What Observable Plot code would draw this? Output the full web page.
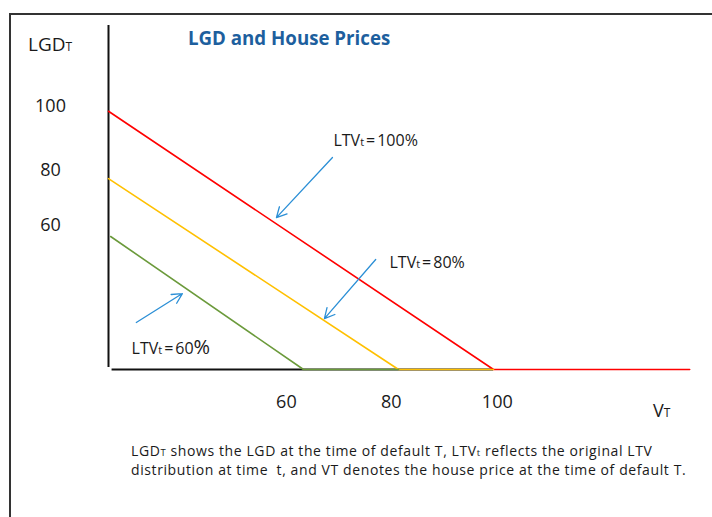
<!DOCTYPE html>
<html>
<head>
<meta charset="utf-8">
<script src="https://cdn.jsdelivr.net/npm/d3@7"></script>
<script src="https://cdn.jsdelivr.net/npm/@observablehq/plot@0.6"></script>
<style>
  html, body { margin: 0; padding: 0; background: #fff; }
  #wrap { position: relative; width: 712px; height: 517px; overflow: hidden; font-family: "Open Sans", "Noto Sans", sans-serif; color: #1a1a1a; }
  #frameBox { position: absolute; left: 9px; top: 13px; width: 760px; height: 560px; border-left: 2px solid #333; border-top: 2px solid #333; }
  #chart { position: absolute; left: 0; top: 0; }
  .abs { position: absolute; white-space: nowrap; }
  #title { left: 188px; top: 25px; font-size: 18.7px; font-weight: 700; color: #1d5f9e; line-height: 26px; }
  .axt { font-size: 19px; line-height: 24px; }
  .sm { font-size: 12px; }
  .cap { left: 131px; font-family: "Open Sans", sans-serif; font-size: 14px; line-height: 18px; letter-spacing: 0.6px; }
  .cap .sm { font-size: 9.5px; }
</style>
</head>
<body>
<div id="wrap">
  <div id="frameBox"></div>
  <div id="chart"></div>
  <div id="title" class="abs">LGD and House Prices</div>
  <div class="abs axt" style="left:28px;top:32px;">LGD<span class="sm">T</span></div>
  <div class="abs axt" style="left:653px;top:398px;font-size:18px;">V<span class="sm">T</span></div>
  <div class="abs cap" style="top:442px;">LGD<span class="sm">T</span> shows the LGD at the time of default T, LTV<span class="sm">t</span> reflects the original LTV</div>
  <div class="abs cap" style="top:461px;">distribution at time&nbsp; t, and VT denotes the house price at the time of default T.</div>
</div>
<script>
// Series (LTV at origination) and their colours
const seriesNames = ["LTVt=100%", "LTVt=80%", "LTVt=60%"];
const seriesColors = ["#ff0000", "#ffc000", "#6b9a3b"];

// House price at default (V_T) and LGD_T for each series
const vRed = [18.95, 100, 141.3];
const lgdRed = [100, 0, 0];
const vYellow = [18.95, 80, 100];
const lgdYellow = [73.9, 0, 0];
const vGreen = [19.4, 60, 80];
const lgdGreen = [51.5, 0, 0];

// Tick labels and where they sit (in data units)
const xTickLabels = ["60", "80", "100"];
const xTickAt = [56.4, 78.5, 100.8];
const yTickLabels = ["100", "80", "60"];
const yTickAt = [101.8, 77.0, 55.7];

// Axis lines
const axisV = 18.95;
const axisVExtent = [0.8, 133.2];
const axisHExtent = [19.7, 100];

// Annotation arrows (tail -> head) and labels
const arrowX1 = [66.1, 75.2, 24.8];
const arrowY1 = [82.1, 42.6, 18.2];
const arrowX2 = [54.3, 64.4, 34.5];
const arrowY2 = [58.8, 19.7, 29.4];
const labelX = [66.3, 78.1, 23.8];
const labelY = [88.6, 41.4, 8.1];

const rows = [];
[[vRed, lgdRed], [vYellow, lgdYellow], [vGreen, lgdGreen]].forEach(([vs, ls], i) => {
  vs.forEach((v, j) => rows.push({series: seriesNames[i], v, lgd: ls[j]}));
});
const arrows = arrowX1.map((d, i) => ({x1: d, y1: arrowY1[i], x2: arrowX2[i], y2: arrowY2[i]}));
const labels = seriesNames.map((s, i) => ({text: s, x: labelX[i], y: labelY[i]}));
const xTicks = xTickLabels.map((l, i) => ({label: l, at: xTickAt[i]}));
const yTicks = yTickLabels.map((l, i) => ({label: l, at: yTickAt[i]}));

const chart = Plot.plot({
  width: 712,
  height: 517,
  marginLeft: 108,
  marginRight: 22,
  marginTop: 25,
  marginBottom: 148,
  style: {fontFamily: "'Open Sans', 'Noto Sans', sans-serif", background: "transparent", color: "#1a1a1a"},
  x: {domain: [18.95, 141.47], axis: null},
  y: {domain: [0, 133.2], axis: null},
  color: {domain: seriesNames, range: seriesColors},
  marks: [
    Plot.ruleX([axisV], {y1: axisVExtent[0], y2: axisVExtent[1], stroke: "#111", strokeWidth: 2}),
    Plot.ruleY([0], {x1: axisHExtent[0], x2: axisHExtent[1], stroke: "#111", strokeWidth: 2}),
    Plot.line(rows, {x: "v", y: "lgd", z: "series", stroke: "series", strokeWidth: 1.6}),
    Plot.arrow(arrows, {x1: "x1", y1: "y1", x2: "x2", y2: "y2", stroke: "#2b8fd6", strokeWidth: 1.3, headLength: 13, headAngle: 55}),
    Plot.text(labels, {x: "x", y: "y", text: "text", textAnchor: "start", fontSize: 16, fill: "#1a1a1a"}),
    Plot.text(xTicks, {x: "at", text: "label", frameAnchor: "bottom", dy: 38, fontSize: 18, fill: "#1a1a1a"}),
    Plot.text(yTicks, {y: "at", text: "label", frameAnchor: "left", dx: -58, textAnchor: "middle", fontSize: 18, fill: "#1a1a1a"})
  ]
});

// small "t" in LTVt, larger % on the 60% label
chart.querySelectorAll("text").forEach(t => {
  const m = t.textContent.match(/^(LTV)(t)(=)(\d+)(%)$/);
  if (!m) return;
  t.textContent = "";
  const ns = "http://www.w3.org/2000/svg";
  const parts = [[m[1], null], [m[2], "11px"], [m[3], null, "2"], [m[4], null, "2"], [m[5], m[4] === "60" ? "20px" : null]];
  for (const [s, fs, dx] of parts) {
    const ts = document.createElementNS(ns, "tspan");
    ts.textContent = s;
    if (fs) ts.setAttribute("font-size", fs);
    if (dx) ts.setAttribute("dx", dx);
    t.appendChild(ts);
  }
});

document.getElementById("chart").appendChild(chart);
</script>
</body>
</html>
